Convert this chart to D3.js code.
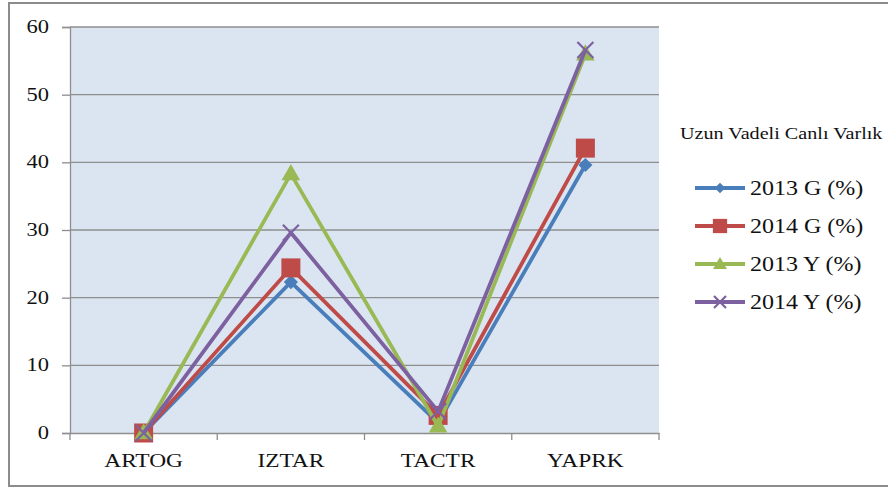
<!DOCTYPE html>
<html>
<head>
<meta charset="utf-8">
<script src="https://cdn.jsdelivr.net/npm/d3@7"></script>
<style>
  html, body { margin: 0; padding: 0; background: #fff; }
  svg { display: block; }
</style>
</head>
<body>
<svg id="chart" width="888" height="489"></svg>
<script>
const categories = ["ARTOG", "IZTAR", "TACTR", "YAPRK"];
const seriesNames = ["2013 G (%)", "2014 G (%)", "2013 Y (%)", "2014 Y (%)"];
const values2013G = [0, 22.3, 1.5, 39.6];
const values2014G = [0, 24.4, 2.6, 42.1];
const values2013Y = [0, 38.3, 1.0, 56.0];
const values2014Y = [0, 29.6, 3.2, 56.6];
const yTicks = [0, 10, 20, 30, 40, 50, 60];
const legendTitle = "Uzun Vadeli Canlı Varlık";

const seriesColors = ["#4a7ebb", "#be4b48", "#98b954", "#7d60a0"];
const seriesMarkers = ["diamond", "square", "triangle", "cross"];
const series = [values2013G, values2014G, values2013Y, values2014Y].map((v, i) => ({
  name: seriesNames[i], values: v, color: seriesColors[i], marker: seriesMarkers[i]
}));

const FONT = "'Liberation Serif', 'DejaVu Serif', 'Times New Roman', serif";
const svg = d3.select("#chart");
const SX = 1.2; // horizontal stretch of the reference's text

// outer frame
svg.append("rect").attr("x", 9).attr("y", 3).attr("width", 900).attr("height", 483)
  .attr("fill", "#fff").attr("stroke", "#8c8c8c").attr("stroke-width", 2);

const plot = { left: 70, right: 659, top: 27, bottom: 433 };
const x = d3.scaleBand().domain(categories).range([plot.left, plot.right]);
const y = d3.scaleLinear().domain([0, 60]).range([plot.bottom, plot.top]);
const cx = c => x(c) + x.bandwidth() / 2;

// plot background
svg.append("rect").attr("x", plot.left).attr("y", plot.top)
  .attr("width", plot.right - plot.left).attr("height", plot.bottom - plot.top)
  .attr("fill", "#dbe5f1");

// gridlines
svg.append("g").selectAll("line").data(yTicks.filter(t => t > 0)).join("line")
  .attr("x1", plot.left).attr("x2", plot.right)
  .attr("y1", d => y(d)).attr("y2", d => y(d))
  .attr("stroke", "#8e8e8e").attr("stroke-width", 1.3);

function stretchedText(g, tx, ty, str, size, anchor, sx) {
  const t = g.append("g").attr("transform", `translate(${tx},${ty}) scale(${sx || SX},1)`);
  t.append("text").attr("x", 0).attr("y", 0).attr("font-size", size)
    .attr("font-family", FONT).attr("fill", "#111")
    .attr("text-anchor", anchor).text(str);
}

// y axis
const yAxis = svg.append("g").attr("transform", `translate(${plot.left},0)`)
  .call(d3.axisLeft(y).tickValues(yTicks).tickSize(8).tickFormat(""));
yAxis.select(".domain").attr("stroke", "#8e8e8e").attr("stroke-width", 1.3);
yAxis.selectAll(".tick line").attr("stroke", "#8e8e8e").attr("stroke-width", 1.3);
const yl = svg.append("g");
yTicks.forEach(t => stretchedText(yl, 49, y(t) + 6, String(t), 18, "end", 1.25));

// x axis
const xAxis = svg.append("g").attr("transform", `translate(0,${plot.bottom})`)
  .call(d3.axisBottom(x).tickSize(0).tickFormat(""));
xAxis.select(".domain").attr("stroke", "#8e8e8e").attr("stroke-width", 1.3);
xAxis.selectAll(".tick line").remove();
const boundaries = categories.map(c => x(c)).concat([plot.right]);
svg.append("g").selectAll("line").data(boundaries).join("line")
  .attr("x1", d => d).attr("x2", d => d)
  .attr("y1", plot.bottom).attr("y2", plot.bottom + 7)
  .attr("stroke", "#8e8e8e").attr("stroke-width", 1.3);
const xl = svg.append("g");
categories.forEach(c => stretchedText(xl, cx(c), 467, c, 19.5, "middle"));

// markers
function drawMarker(g, type, px, py, color, scale) {
  if (type === "diamond") {
    const s = 10 * scale;
    g.append("rect").attr("x", -s / 2).attr("y", -s / 2).attr("width", s).attr("height", s)
      .attr("fill", color).attr("transform", `translate(${px},${py}) rotate(45)`);
  } else if (type === "square") {
    const s = 19 * scale;
    g.append("rect").attr("x", px - s / 2).attr("y", py - s / 2).attr("width", s).attr("height", s)
      .attr("fill", color);
  } else if (type === "triangle") {
    g.append("path").attr("d", d3.symbol().type(d3.symbolTriangle).size(150 * scale * scale)())
      .attr("fill", color).attr("transform", `translate(${px},${py + 1})`);
  } else {
    const r = 8 * scale;
    g.append("path").attr("d", `M${-r},${-r}L${r},${r}M${-r},${r}L${r},${-r}`)
      .attr("stroke", color).attr("stroke-width", 2.2).attr("fill", "none")
      .attr("transform", `translate(${px},${py})`);
  }
}

const line = d3.line().x((d, i) => cx(categories[i])).y(d => y(d));
series.forEach(s => {
  const g = svg.append("g");
  g.append("path").attr("d", line(s.values)).attr("fill", "none")
    .attr("stroke", s.color).attr("stroke-width", 3.8).attr("stroke-linejoin", "round");
  s.values.forEach((v, i) => drawMarker(g, s.marker, cx(categories[i]), y(v), s.color, 1));
});

// legend
const lg = svg.append("g");
stretchedText(lg, 680, 139, legendTitle, 16.8, "start");
series.forEach((s, i) => {
  const ly = 188 + i * 38;
  lg.append("line").attr("x1", 695).attr("x2", 745).attr("y1", ly).attr("y2", ly)
    .attr("stroke", s.color).attr("stroke-width", 3.8);
  drawMarker(lg, s.marker, 720, ly, s.color, 0.75);
  stretchedText(lg, 750, ly + 7, s.name, 20, "start");
});
</script>
</body>
</html>
